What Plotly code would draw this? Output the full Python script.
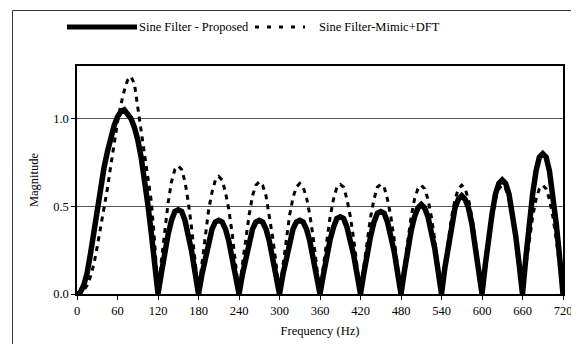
import plotly.graph_objects as go

freq = [0, 5, 10, 15, 20, 25, 30, 35, 40, 45, 50, 55, 60, 65, 70, 75, 80, 85, 90, 95, 100, 105, 110, 115,
        120, 125, 130, 135, 140, 145, 150, 155, 160, 165, 170, 175,
        180, 185, 190, 195, 200, 205, 210, 215, 220, 225, 230, 235,
        240, 245, 250, 255, 260, 265, 270, 275, 280, 285, 290, 295,
        300, 305, 310, 315, 320, 325, 330, 335, 340, 345, 350, 355,
        360, 365, 370, 375, 380, 385, 390, 395, 400, 405, 410, 415,
        420, 425, 430, 435, 440, 445, 450, 455, 460, 465, 470, 475,
        480, 485, 490, 495, 500, 505, 510, 515, 520, 525, 530, 535,
        540, 545, 550, 555, 560, 565, 570, 575, 580, 585, 590, 595,
        600, 605, 610, 615, 620, 625, 630, 635, 640, 645, 650, 655,
        660, 665, 670, 675, 680, 685, 690, 695, 700, 705, 710, 715, 720]

proposed = [0, 0.01, 0.05, 0.12, 0.23, 0.36, 0.50, 0.62, 0.72, 0.81, 0.89, 0.96, 1.01, 1.04, 1.05, 1.03, 1.00, 0.95, 0.88, 0.78, 0.66, 0.51, 0.35, 0.17,
            0, 0.12, 0.24, 0.34, 0.42, 0.47, 0.48, 0.47, 0.42, 0.34, 0.24, 0.12,
            0, 0.11, 0.21, 0.30, 0.37, 0.41, 0.42, 0.41, 0.37, 0.30, 0.21, 0.11,
            0, 0.11, 0.21, 0.30, 0.37, 0.41, 0.42, 0.41, 0.37, 0.30, 0.21, 0.11,
            0, 0.11, 0.21, 0.30, 0.37, 0.41, 0.42, 0.41, 0.37, 0.30, 0.21, 0.11,
            0, 0.11, 0.22, 0.31, 0.38, 0.43, 0.44, 0.43, 0.38, 0.31, 0.22, 0.11,
            0, 0.12, 0.24, 0.33, 0.41, 0.46, 0.47, 0.46, 0.41, 0.33, 0.24, 0.12,
            0, 0.13, 0.26, 0.36, 0.44, 0.49, 0.51, 0.49, 0.44, 0.36, 0.26, 0.13,
            0, 0.15, 0.28, 0.40, 0.49, 0.54, 0.56, 0.54, 0.49, 0.40, 0.28, 0.15,
            0, 0.17, 0.33, 0.46, 0.57, 0.63, 0.65, 0.63, 0.57, 0.46, 0.33, 0.17,
            0, 0.21, 0.40, 0.57, 0.70, 0.78, 0.80, 0.78, 0.70, 0.57, 0.40, 0.21, 0]

mimic_dft = [0, 0.00, 0.02, 0.05, 0.10, 0.17, 0.27, 0.38, 0.48, 0.60, 0.73, 0.86, 0.98, 1.08, 1.16, 1.22, 1.24, 1.20, 1.06, 0.92, 0.79, 0.66, 0.53, 0.30,
             0, 0.19, 0.37, 0.52, 0.64, 0.71, 0.73, 0.71, 0.64, 0.52, 0.37, 0.19,
             0, 0.17, 0.34, 0.48, 0.58, 0.65, 0.67, 0.65, 0.58, 0.48, 0.34, 0.17,
             0, 0.17, 0.32, 0.45, 0.56, 0.62, 0.64, 0.62, 0.56, 0.45, 0.32, 0.17,
             0, 0.16, 0.32, 0.45, 0.55, 0.61, 0.63, 0.61, 0.55, 0.45, 0.32, 0.16,
             0, 0.16, 0.31, 0.44, 0.54, 0.61, 0.625, 0.61, 0.54, 0.44, 0.31, 0.16,
             0, 0.16, 0.31, 0.44, 0.54, 0.61, 0.625, 0.61, 0.54, 0.44, 0.31, 0.16,
             0, 0.16, 0.31, 0.44, 0.54, 0.60, 0.62, 0.60, 0.54, 0.44, 0.31, 0.16,
             0, 0.16, 0.31, 0.44, 0.54, 0.60, 0.62, 0.60, 0.54, 0.44, 0.31, 0.16,
             0, 0.16, 0.31, 0.44, 0.54, 0.60, 0.62, 0.60, 0.54, 0.44, 0.31, 0.16,
             0, 0.16, 0.31, 0.44, 0.54, 0.60, 0.62, 0.60, 0.54, 0.44, 0.31, 0.16, 0]

x_ticks = [0, 60, 120, 180, 240, 300, 360, 420, 480, 540, 600, 660, 720]
y_ticks = [0.0, 0.5, 1.0]
y_tick_labels = ["0.0", "0.5", "1.0"]
series_names = ["Sine Filter - Proposed", "Sine Filter-Mimic+DFT"]

FONT = "Liberation Serif, Times New Roman, serif"

# plot area in reference pixels: x 77..563, y 66..294 (page has an 8px body margin)
PL, PR, PT, PB = 77, 563, 66, 294
PW, PH = PR - PL, PB - PT


def px(x):
    return (x - PL) / PW


def py(y):
    return (PB - y) / PH


fig = go.Figure()
fig.add_trace(go.Scatter(x=freq, y=mimic_dft, mode="lines", name=series_names[1],
                         line=dict(color="black", width=3, dash="5px,5px"), showlegend=False))
fig.add_trace(go.Scatter(x=freq, y=proposed, mode="lines", name=series_names[0],
                         line=dict(color="black", width=5.5), showlegend=False))

shapes = [
    dict(type="line", xref="paper", yref="paper", x0=px(67), x1=px(137), y0=py(27), y1=py(27),
         line=dict(color="black", width=5)),
    dict(type="line", xref="paper", yref="paper", x0=px(255), x1=px(305), y0=py(27), y1=py(27),
         line=dict(color="black", width=3, dash="4px,8px")),
    dict(type="line", xref="paper", yref="paper", x0=px(12.5), x1=px(12.5), y0=-0.3, y1=py(10.5),
         line=dict(color="#333", width=1)),
    dict(type="line", xref="paper", yref="paper", x0=px(12.5), x1=1.1, y0=py(10.5), y1=py(10.5),
         line=dict(color="#333", width=1)),
]
annotations = [
    dict(text=series_names[0], xref="paper", yref="paper", x=px(137), y=py(27),
         xanchor="left", yanchor="middle", showarrow=False, font=dict(family=FONT, size=12.5, color="black")),
    dict(text=series_names[1], xref="paper", yref="paper", x=px(317), y=py(27),
         xanchor="left", yanchor="middle", showarrow=False, font=dict(family=FONT, size=12.5, color="black")),
]

fig.update_layout(
    width=571, height=336,
    margin=dict(l=PL - 8, r=579 - PR, t=PT - 8, b=344 - PB),
    paper_bgcolor="white", plot_bgcolor="white",
    font=dict(family=FONT, size=12.5, color="black"),
    shapes=shapes, annotations=annotations,
    showlegend=False,
)
fig.update_xaxes(range=[0, 720], tickvals=x_ticks, ticktext=[str(v) for v in x_ticks],
                 automargin=False,
                 showgrid=False, zeroline=False, showline=True, linecolor="black", linewidth=1.5,
                 mirror=True, ticks="outside", ticklen=4, tickcolor="black",
                 title=dict(text="Frequency (Hz)", standoff=9, font=dict(family=FONT, size=12.5)))
fig.update_yaxes(range=[0, 1.3], tickvals=y_ticks, ticktext=y_tick_labels,
                 automargin=False,
                 showgrid=True, gridcolor="#555", gridwidth=1, zeroline=False,
                 showline=True, linecolor="black", linewidth=1.5, mirror=True,
                 ticks="outside", ticklen=4, tickcolor="black",
                 title=dict(text="Magnitude", standoff=12, font=dict(family=FONT, size=12.5)))

fig.write_html("out.html")
